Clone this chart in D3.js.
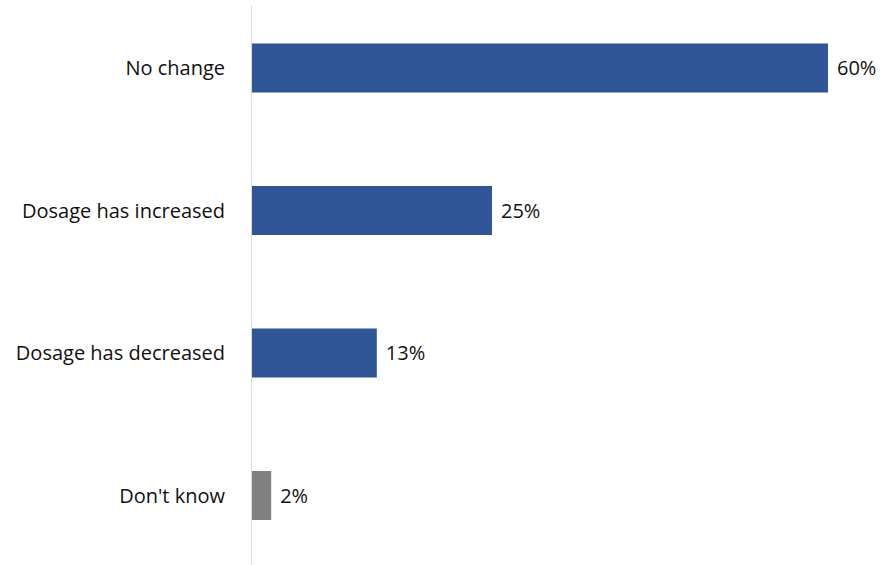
<!DOCTYPE html>
<html><head><meta charset="utf-8">
<script src="https://cdn.jsdelivr.net/npm/d3@7"></script>
<style>body{margin:0;background:#fff;}svg{display:block;}</style>
</head><body>
<svg id="c" width="881" height="565"></svg>
<script>
const categories = ["No change", "Dosage has increased", "Dosage has decreased", "Don't know"];
const values = [60, 25, 13, 2];
const barColors = ["#2F5597", "#2F5597", "#2F5597", "#808080"];

const svg = d3.select("#c");
const font = "'Open Sans', sans-serif";
const x = d3.scaleLinear().domain([0, 60]).range([252, 828]);
const y = d3.scaleBand().domain(categories).range([-3.25, 566.75]).paddingInner(0.656).paddingOuter(0.328);

svg.append("line").attr("x1", 251.5).attr("x2", 251.5).attr("y1", 6).attr("y2", 565)
  .attr("stroke", "#d9d9d9").attr("stroke-width", 1);

svg.selectAll("rect.bar").data(categories).join("rect").attr("class", "bar")
  .attr("x", x(0)).attr("y", d => y(d)).attr("height", y.bandwidth())
  .attr("width", (d, i) => x(values[i]) - x(0)).attr("fill", (d, i) => barColors[i]);

svg.selectAll("text.cat").data(categories).join("text").attr("class", "cat")
  .attr("x", 225).attr("y", d => y(d) + y.bandwidth() / 2).attr("dy", "0.35em")
  .attr("text-anchor", "end").attr("font-family", font).attr("font-size", 20).attr("fill", "#111")
  .text(d => d);

svg.selectAll("text.val").data(categories).join("text").attr("class", "val")
  .attr("x", (d, i) => x(values[i]) + 9).attr("y", d => y(d) + y.bandwidth() / 2).attr("dy", "0.35em")
  .attr("font-family", font).attr("font-size", 20).attr("fill", "#111")
  .text((d, i) => values[i] + "%");
</script>
</body></html>
